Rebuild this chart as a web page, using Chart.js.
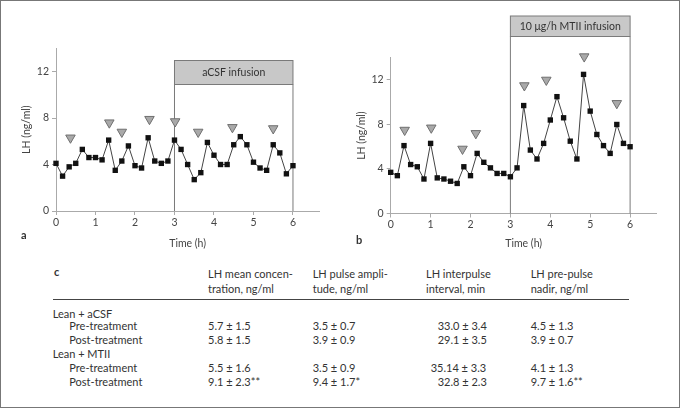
<!DOCTYPE html>
<html>
<head>
<meta charset="utf-8">
<script src="https://cdn.jsdelivr.net/npm/chart.js@4.4.1/dist/chart.umd.min.js"></script>
<style>
  body { margin: 0; background: #fff; }
  #page { position: relative; width: 680px; height: 411px; font-family: Lato, sans-serif; color: #333; }
  #frame { position: absolute; left: 0; top: 0; width: 678px; height: 406px; border: 1px solid #777; }
  canvas { position: absolute; top: 0; }
  .t { position: absolute; font-size: 11px; line-height: 12px; white-space: nowrap; }
  .b { font-weight: bold; }
</style>
</head>
<body>
<div id="page">
  <div id="frame"></div>
  <canvas id="chartA" width="340" height="250" style="left:0"></canvas>
  <canvas id="chartB" width="340" height="250" style="left:340px"></canvas>
  <div class="t b" style="left:21px;top:229px">a</div>
  <div class="t b" style="left:356px;top:234px">b</div>
  <div id="tabla"></div>
</div>
<script>
// tiempos de muestreo (min) y LH (ng/ml)
var minutos = [0, 10, 20, 30, 40, 50, 60, 70, 80, 90, 100, 110, 120, 130, 140, 150, 160, 170, 180,
  190, 200, 210, 220, 230, 240, 250, 260, 270, 280, 290, 300, 310, 320, 330, 340, 350, 360];
var lhAcsf = [4.1, 3.0, 3.8, 4.1, 5.3, 4.6, 4.6, 4.4, 6.1, 3.5, 4.3, 5.6, 3.9, 3.7, 6.3, 4.3, 4.1, 4.3, 6.1,
  5.3, 4.0, 2.7, 3.3, 5.9, 4.8, 4.0, 4.0, 5.7, 6.4, 5.7, 4.2, 3.7, 3.5, 5.7, 5.0, 3.2, 3.9];
var lhMtii = [3.7, 3.4, 6.1, 4.4, 4.2, 3.1, 6.3, 3.2, 3.1, 2.9, 2.7, 4.2, 3.4, 5.4, 4.6, 4.1, 3.6, 3.6, 3.3,
  4.1, 9.7, 5.7, 4.9, 6.3, 8.4, 10.5, 8.6, 6.5, 4.9, 12.5, 9.2, 7.1, 6.1, 5.4, 8.0, 6.3, 6.0];

// pulsos detectados (triangulos)
var pulsosAcsfMin = [22, 81, 100, 142, 181, 216, 268, 330];
var pulsosAcsfLh = [6.3, 7.6, 6.8, 7.9, 7.7, 6.8, 7.2, 7.1];
var pulsosMtiiMin = [21, 61, 108, 128, 201, 234, 291, 340];
var pulsosMtiiLh = [7.5, 7.7, 5.8, 7.2, 11.5, 12.0, 14.1, 9.9];

var horasTicks = [0, 1, 2, 3, 4, 5, 6];
var lhTicks = [0, 4, 8, 12];
var infusion = [180, 360]; // inicio y fin de la infusion (min)

// tabla c
var encabezados = ['LH mean concen-\ntration, ng/ml', 'LH pulse ampli-\ntude, ng/ml', 'LH interpulse\ninterval, min', 'LH pre-pulse\nnadir, ng/ml'];
var filas = ['Lean + aCSF', 'Pre-treatment', 'Post-treatment', 'Lean + MTII', 'Pre-treatment', 'Post-treatment'];
var colMedia = ['', '5.7 ± 1.5', '5.8 ± 1.5', '', '5.5 ± 1.6', '9.1 ± 2.3**'];
var colAmplitud = ['', '3.5 ± 0.7', '3.9 ± 0.9', '', '3.5 ± 0.9', '9.4 ± 1.7*'];
var colIntervalo = ['', '33.0 ± 3.4', '29.1 ± 3.5', '', '35.14 ± 3.3', '32.8 ± 2.3'];
var colNadir = ['', '4.5 ± 1.3', '3.9 ± 0.7', '', '4.1 ± 1.3', '9.7 ± 1.6**'];

Chart.defaults.font.family = 'Lato, sans-serif';
Chart.defaults.font.size = 10.5;
Chart.defaults.color = '#444';

function puntos(xs, ys) {
  return xs.map(function(x, i) { return { x: x, y: ys[i] }; });
}

// caja gris "infusion" con sus lineas verticales
var cajaInfusion = {
  id: 'cajaInfusion',
  beforeDatasetsDraw: function(chart, args, opts) {
    var ctx = chart.ctx;
    var x0 = chart.scales.x.getPixelForValue(infusion[0]);
    var x1 = chart.scales.x.getPixelForValue(infusion[1]);
    var bottom = chart.chartArea.bottom;
    ctx.save();
    ctx.fillStyle = '#c8c8c8';
    ctx.fillRect(x0, opts.top, x1 - x0, opts.bottom - opts.top);
    ctx.strokeStyle = '#7a7a7a';
    ctx.lineWidth = 1;
    ctx.strokeRect(x0, opts.top, x1 - x0, opts.bottom - opts.top);
    ctx.beginPath();
    ctx.moveTo(x0, opts.bottom);
    ctx.lineTo(x0, bottom);
    ctx.moveTo(x1, opts.bottom);
    ctx.lineTo(x1, bottom);
    ctx.stroke();
    ctx.fillStyle = '#333';
    ctx.font = '10.5px Lato, sans-serif';
    ctx.textAlign = 'center';
    ctx.textBaseline = 'middle';
    ctx.fillText(opts.texto, (x0 + x1) / 2, (opts.top + opts.bottom) / 2 + 0.5);
    ctx.restore();
  }
};

function crearGrafico(id, lh, pulsosX, pulsosY, cfg) {
  return new Chart(document.getElementById(id).getContext('2d'), {
    type: 'line',
    data: {
      datasets: [{
        data: puntos(pulsosX, pulsosY),
        showLine: false,
        pointStyle: 'triangle',
        rotation: 180,
        pointRadius: 5.5,
        pointBackgroundColor: '#a9a9a9',
        pointBorderColor: '#6f6f6f',
        pointBorderWidth: 1,
        clip: false
      }, {
        data: puntos(minutos, lh),
        borderColor: '#444',
        borderWidth: 1,
        tension: 0,
        pointStyle: 'rect',
        pointRadius: 3.8,
        pointBackgroundColor: '#111',
        pointBorderColor: '#111',
        pointBorderWidth: 0,
        clip: false
      }]
    },
    options: {
      responsive: false,
      animation: false,
      layout: { padding: { left: cfg.padIzq, right: cfg.padDer, top: cfg.padSup, bottom: 0 } },
      plugins: {
        legend: { display: false },
        tooltip: { enabled: false },
        cajaInfusion: { top: cfg.cajaSup, bottom: cfg.cajaInf, texto: cfg.texto }
      },
      scales: {
        x: {
          type: 'linear',
          min: 0,
          max: 400,
          afterBuildTicks: function(s) { s.ticks = horasTicks.map(function(h) { return { value: h * 60 }; }); },
          afterFit: function(s) { s.height = cfg.altoX; },
          ticks: { callback: function(v) { return v / 60; }, padding: 1, maxRotation: 0 },
          grid: { drawOnChartArea: false, tickLength: 4, color: '#aaa' },
          border: { color: '#aaa' },
          title: { display: true, text: 'Time (h)', padding: 0, font: { size: 10.5 } }
        },
        y: {
          min: 0,
          max: 14,
          afterBuildTicks: function(s) { s.ticks = lhTicks.map(function(v) { return { value: v }; }); },
          afterFit: function(s) { s.width = cfg.anchoY; },
          ticks: { padding: 3 },
          grid: { drawOnChartArea: false, tickLength: 4, color: '#aaa' },
          border: { color: '#aaa' },
          title: { display: true, text: 'LH (ng/ml)', padding: 0, font: { size: 10.5 } }
        }
      }
    },
    plugins: [cajaInfusion]
  });
}

crearGrafico('chartA', lhAcsf, pulsosAcsfMin, pulsosAcsfLh,
  { padIzq: 20, padDer: 20.7, padSup: 48.3, anchoY: 36, altoX: 39, cajaSup: 60.5, cajaInf: 84.5, texto: 'aCSF infusion' });
crearGrafico('chartB', lhMtii, pulsosMtiiMin, pulsosMtiiLh,
  { padIzq: 15, padDer: 23.3, padSup: 57.7, anchoY: 35.7, altoX: 36.5, cajaSup: 16, cajaInf: 36.5, texto: '10 μg/h MTII infusion' });

// tabla c con divs posicionados
var tabla = document.getElementById('tabla');
function texto(t, x, y, extra) {
  var d = document.createElement('div');
  d.className = 't' + (extra || '');
  d.style.left = x + 'px';
  d.style.top = y + 'px';
  d.textContent = t;
  tabla.appendChild(d);
  return d;
}
texto('c', 54, 266, ' b');
var colX = [208, 312.7, 426, 530.7];
encabezados.forEach(function(h, i) {
  var d = texto('', colX[i], 266);
  d.style.lineHeight = '15px';
  d.innerHTML = h.replace('\n', '<br>');
});
var regla = document.createElement('div');
regla.style.cssText = 'position:absolute;left:53px;top:298.5px;width:576px;height:1px;background:#444';
tabla.appendChild(regla);
var filaY = [308, 320, 334, 348, 361.7, 375.7];
filas.forEach(function(f, i) {
  var sangria = f.indexOf('Lean') === 0 ? 52.7 : 69.3;
  texto(f, sangria, filaY[i]);
  texto(colMedia[i], colX[0], filaY[i]);
  texto(colAmplitud[i], colX[1], filaY[i]);
  var d = texto(colIntervalo[i], 0, filaY[i]);
  d.style.left = (486.7 - d.offsetWidth) + 'px';
  texto(colNadir[i], colX[3], filaY[i]);
});
</script>
</body>
</html>
